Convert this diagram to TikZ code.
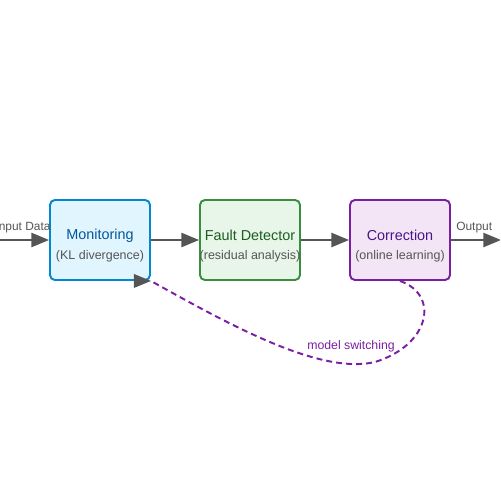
\documentclass[tikz,border=0pt]{standalone}
\usepackage{fontspec}
\setmainfont{Liberation Sans}
\usetikzlibrary{arrows.meta}
\definecolor{arrgray}{HTML}{555555}
\definecolor{monfill}{HTML}{E1F5FE}
\definecolor{mondraw}{HTML}{0288D1}
\definecolor{montext}{HTML}{01579B}
\definecolor{fdfill}{HTML}{E8F5E9}
\definecolor{fddraw}{HTML}{388E3C}
\definecolor{fdtext}{HTML}{1B5E20}
\definecolor{corrfill}{HTML}{F3E5F5}
\definecolor{corrdraw}{HTML}{7B1FA2}
\definecolor{corrtext}{HTML}{4A148C}
\newcommand{\titlefont}{\fontsize{8.2}{9.8}\selectfont}
\newcommand{\smallfont}{\fontsize{7.1}{8.5}\selectfont}
\newcommand{\lblfont}{\fontsize{6.8}{8}\selectfont}

\begin{document}
\begin{tikzpicture}[x=0.02cm, y=-0.02cm,
  box/.style={rectangle, rounded corners=2.8pt, line width=1.1pt, minimum width=2cm, minimum height=1.6cm},
  flow/.style={line width=1.1pt, color=arrgray, -{Triangle[length=10pt, width=8pt]}},
  sub/.style={text=arrgray, font=\smallfont},
  lbl/.style={text=arrgray, font=\lblfont, above=0pt}]
\clip (0,0) rectangle (500,500);

\node [box, draw=mondraw, fill=monfill] (mon) at (100,240) {};
\node [box, draw=fddraw, fill=fdfill] (fd) at (250,240) {};
\node [box, draw=corrdraw, fill=corrfill] (corr) at (400,240) {};

\node [text=montext, font=\titlefont] (montitle) at (100,235.5) {Monitoring};
\node [sub] (monsub) at (100,256) {(KL divergence)};
\node [text=fdtext, font=\titlefont] (fdtitle) at (250,235.5) {Fault Detector};
\node [sub] (fdsub) at (250,256) {(residual analysis)};
\node [text=corrtext, font=\titlefont] (corrtitle) at (400,235.5) {Correction};
\node [sub] (corrsub) at (400,256) {(online learning)};

\coordinate (in) at (-10,240);
\coordinate (out) at (501,240);

\draw [flow] (in) -- (mon.west) node [lbl, midway, xshift=2] {Input Data};
\draw [flow] (mon.east) -- (fd.west);
\draw [flow] (fd.east) -- (corr.west);
\draw [flow] (corr.east) -- (out) node [lbl, midway, xshift=-1] {Output};

% feedback
\draw [line width=1.1pt, color=corrdraw, dash pattern=on 3.4pt off 2.3pt]
  (corr.south) .. controls (440,295) and (430,345) .. (375,362)
  .. controls (320,375) and (230,325) .. (mon.south east);
\fill [arrgray] (mon.south east) -- ++(-17,-7) -- ++(0,14) -- cycle;
\node [text=corrdraw, font=\fontsize{7}{8.4}\selectfont] (sw) at (351,346) {model switching};

\end{tikzpicture}
\end{document}
